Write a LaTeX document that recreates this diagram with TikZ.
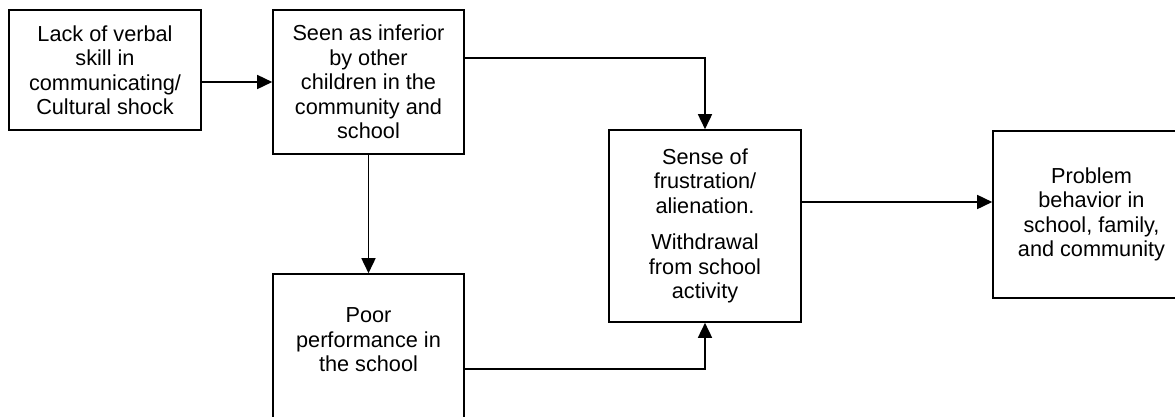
\documentclass[tikz,border=0pt]{standalone}
\usepackage{fontspec}
\setmainfont{Liberation Sans}
\usetikzlibrary{arrows.meta}

\tikzset{
  stepbox/.style={draw=black, line width=1.6pt, rectangle, inner sep=0pt, align=center,
    font=\fontsize{21.7}{24.5}\selectfont},
  flow/.style={draw=black, line width=1.6pt, -{Triangle[length=15pt,width=14pt]}}
}

\begin{document}
\begin{tikzpicture}[x=1pt, y=-1pt]

   \path[use as bounding box, clip] (0,0) rectangle (1175,416);

   \node[stepbox, minimum width=192pt, minimum height=120pt] (lack) at (105,70)
      {Lack of verbal\\skill in\\communicating/\\Cultural shock};
   \node[stepbox, minimum width=191pt, minimum height=144pt] (inferior) at (368.5,82)
      {Seen as inferior\\by other\\children in the\\community and\\school};
   \node[stepbox, minimum width=191pt, minimum height=156pt] (poor) at (368.5,352)
      {Poor\\performance in\\the school\\~};
   \node[stepbox, minimum width=192pt, minimum height=192pt] (sense) at (705,226)
      {Sense of\\frustration/\\alienation.\\[12pt]Withdrawal\\from school\\activity};
   \node[stepbox, minimum width=197pt, minimum height=167pt] (problem) at (1091.5,214.5)
      {Problem\\behavior in\\school, family,\\and community};

   %\draw[flow] (lack) -- (inferior);
   \draw[flow] (lack.east |- inferior.west) -- (inferior.west);
   \draw[flow] ([yshift=24pt]inferior.east) -| (sense.north);
   \draw[flow] (inferior.south) -- (poor.north);
   \draw[flow] ([yshift=-17pt]poor.east) -| (sense.south);

   \coordinate (out) at ([yshift=24pt]sense.east);
   \draw[flow] (out) -- (out -| problem.west);

\end{tikzpicture}
\end{document}
